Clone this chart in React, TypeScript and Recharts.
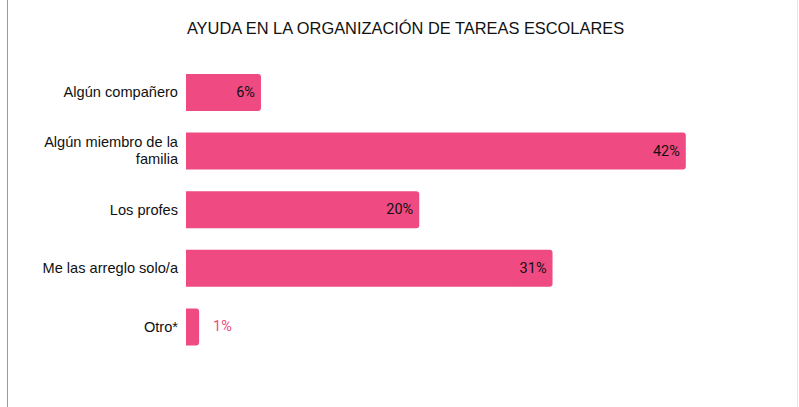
import React from 'react';
import { BarChart, Bar, XAxis, YAxis, Cell, LabelList } from 'recharts';

const categories = ['Algún compañero', 'Algún miembro de la\nfamilia', 'Los profes', 'Me las arreglo solo/a', 'Otro*'];
const values = [6.3, 42, 19.6, 30.8, 1.1];
const labels = ['6%', '42%', '20%', '31%', '1%'];

const PINK = '#EF4A82';

const data = categories.map((name, i) => ({ name, value: values[i], label: labels[i] }));

const CategoryTick = (props: any) => {
  const { x, y, payload } = props;
  const lines = String(payload.value).split('\n');
  const lh = 17;
  const start = y - ((lines.length - 1) * lh) / 2;
  return (
    <text x={x} y={start} textAnchor="end" dominantBaseline="central" fontSize={14.6} fill="#111" fontFamily="'Liberation Sans', Arial, sans-serif">
      {lines.map((l, i) => (
        <tspan key={i} x={x} y={start + i * lh}>{l}</tspan>
      ))}
    </text>
  );
};

const ValueLabel = (props: any) => {
  const { x, y, width, height, index } = props;
  const d = data[index];
  const cy = y + height / 2;
  if (d.value < 3) {
    return (
      <text x={x + width + 14} y={cy} dominantBaseline="central" fontSize={14.5} fill={PINK} fontFamily="Roboto, sans-serif">
        {d.label}
      </text>
    );
  }
  return (
    <text x={x + width - 6} y={cy} textAnchor="end" dominantBaseline="central" fontSize={14.5} fill="#111" fontFamily="Roboto, sans-serif">
      {d.label}
    </text>
  );
};

const App: React.FC = () => {
  return (
    <div style={{ position: 'absolute', left: 0, top: 0, width: 799, height: 407, background: '#fff', overflow: 'hidden' }}>
      <div style={{ position: 'absolute', left: 7, top: 0, width: 1, height: 407, background: '#9a9a9a' }} />
      <div style={{ position: 'absolute', left: 797, top: 0, width: 1, height: 407, background: '#e4e4e4' }} />
      <div
        style={{
          position: 'absolute',
          left: 0,
          width: 799,
          top: 19,
          textAlign: 'center',
          fontFamily: "'Liberation Sans', Arial, sans-serif",
          fontSize: 16.4,
          color: '#111',
          paddingLeft: 12,
          boxSizing: 'border-box',
        }}
      >
        AYUDA EN LA ORGANIZACIÓN DE TAREAS ESCOLARES
      </div>
      <BarChart
        width={799}
        height={407}
        data={data}
        layout="vertical"
        margin={{ top: 63, right: 18, bottom: 51, left: 0 }}
      >
        <XAxis type="number" domain={[0, 50]} hide />
        <YAxis
          type="category"
          dataKey="name"
          width={186}
          axisLine={false}
          tickLine={false}
          tickSize={0}
          tickMargin={8}
          tick={<CategoryTick />}
          interval={0}
        />
        <Bar dataKey="value" barSize={37} radius={[0, 3, 3, 0]} isAnimationActive={false}>
          {data.map((_, i) => (
            <Cell key={i} fill={PINK} />
          ))}
          <LabelList dataKey="value" content={<ValueLabel />} />
        </Bar>
      </BarChart>
    </div>
  );
};

export default App;
